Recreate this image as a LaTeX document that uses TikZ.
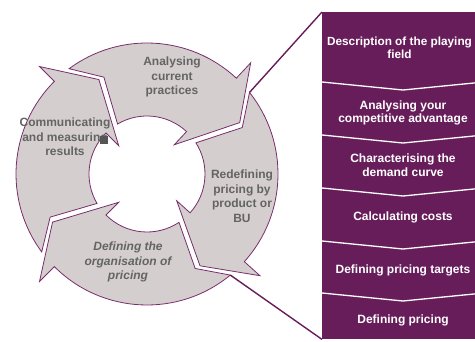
\documentclass[tikz,border=0pt]{standalone}
\usepackage{fontspec}
\setmainfont{Liberation Sans}
\usetikzlibrary{calc}
\definecolor{plum}{RGB}{103,29,90}
\definecolor{ringgray}{RGB}{212,207,206}
\definecolor{ringline}{RGB}{122,45,108}
\definecolor{labelgray}{RGB}{100,100,100}

\begin{document}
\begin{tikzpicture}[x=1pt, y=1pt, line join=miter,
        segment/.style={fill=ringgray, draw=ringline, line width=0.8pt},
        ringtext/.style={text=labelgray, font=\bfseries\fontsize{12}{14.5}\selectfont, align=center},
        ringitalic/.style={ringtext, font=\bfseries\itshape\fontsize{12}{14.5}\selectfont},
        steptext/.style={text=white, font=\bfseries\fontsize{12}{13.5}\selectfont, align=center},
        divider/.style={draw=white, line width=1.3pt},
        zoomline/.style={draw=plum, line width=1.4pt}]
        \clip (0,0) rectangle (475,341);
        \coordinate (c) at (147,167);

        % 环形箭头
        \foreach \i/\a/\b in {1/135/47, 2/47/-42, 3/-42/-135, 4/225/135} {
            \draw[segment] ($(c)+(\a-8.5:131)$) arc[start angle=\a-8.5, end angle=\b, radius=131]
                -- ($(c)+(\b:152)$) -- ($(c)+(\b-18:106)$) -- ($(c)+(\b:40)$)
                -- ($(c)+(\b:58)$) arc[start angle=\b, end angle=\a-14.5, radius=58]
                -- ($(c)+(\a-21:106)$) -- cycle;
            \coordinate (tail\i) at ($(c)+(\a-8.5:131)$);
        }

        % 环上的文字
        \node[ringtext] (analyse) at (172,264) {Analysing\\current\\practices};
        \node[ringtext] (redefine) at (242,145) {Redefining\\pricing by\\product or\\BU};
        \node[ringitalic] (organise) at (128,79) {Defining the\\organisation of\\pricing};
        \node[ringtext] (communicate) at (65,204) {Communicating\\and measuring\\results};
        \node[fill=labelgray!85!black, minimum size=8, inner sep=0] (handle) at (104,201) {};

        % 右侧步骤栏
        \node[fill=plum, minimum width=162, minimum height=327, inner sep=0, anchor=north west] (panel) at (322,329) {};
        \foreach \y in {259,206,153,100,48}
            \draw[divider] (322,\y) -- (403,\y-8) -- (484,\y);

        \node[steptext, font=\bfseries\fontsize{11.8}{13.5}\selectfont] (field) at (399.5,293) {Description of the playing\\field};
        \node[steptext] (advantage) at (403,228) {Analysing your\\competitive advantage};
        \node[steptext] (demand) at (403,176) {Characterising the\\demand curve};
        \node[steptext] (costs) at (403,124) {Calculating costs};
        \node[steptext] (targets) at (403,71) {Defining pricing targets};
        \node[steptext] (pricing) at (403,21) {Defining pricing};

        % 放大连线
        \draw[zoomline] (tail2) -- (panel.north west);
        \draw[zoomline] (tail3) -- (panel.south west);
    \end{tikzpicture}
\end{document}
